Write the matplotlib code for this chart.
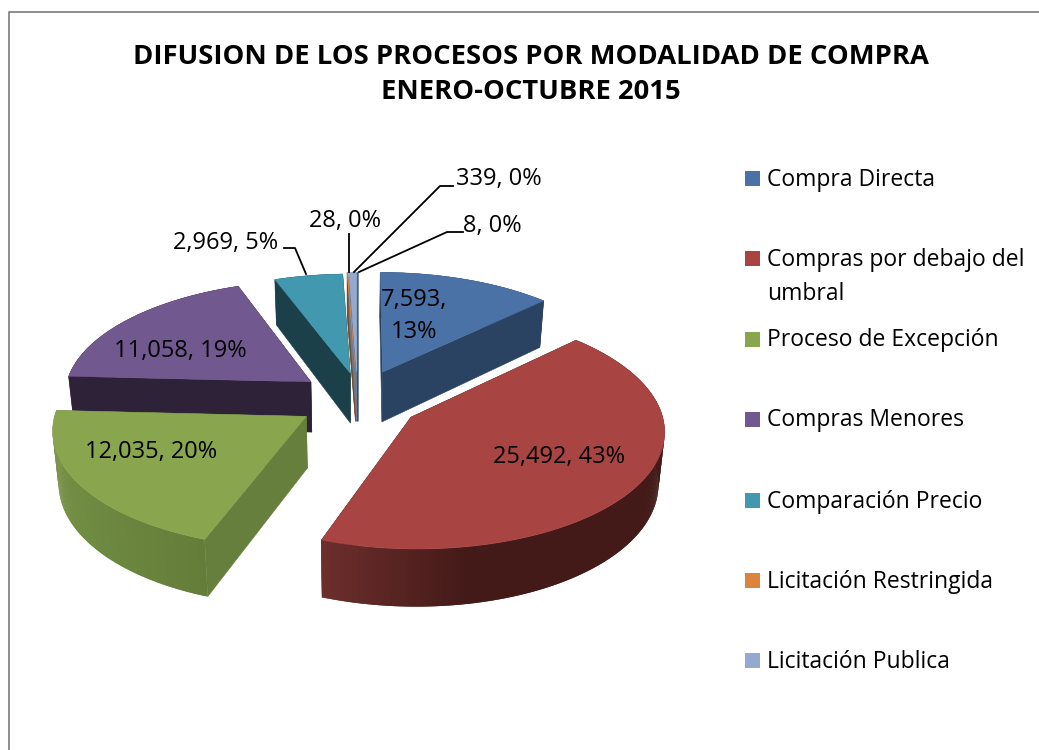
import numpy as np
import matplotlib
matplotlib.use("Agg")
import matplotlib.pyplot as plt
from matplotlib.colors import to_rgb

plt.rcParams['font.family'] = ['Open Sans', 'DejaVu Sans']

# data
title = "DIFUSION DE LOS PROCESOS POR MODALIDAD DE COMPRA\nENERO-OCTUBRE 2015"
values = [7593, 25492, 12035, 11058, 2969, 28, 339, 8]
percents = [13, 43, 20, 19, 5, 0, 0, 0]
legend_names = ["Compra Directa", "Compras por debajo del\numbral", "Proceso de Excepción",
                "Compras Menores", "Comparación Precio", "Licitación Restringida", "Licitación Publica"]
top_colors = ["#4A72A6", "#A84442", "#89A54E", "#71588F", "#4198AF", "#DB843D", "#93A9CF", "#4A72A6"]
cut_colors = ["#2A4363", "#4A1B19", "#667F3C", "#2E2238", "#1B404A", "#7A4A20", "#6A7A94", "#2A4363"]
wall_light = ["#2A4363", "#6E2F2D", "#7C994A", "#2E2238", "#1B404A", "#7A4A20", "#6A7A94", "#2A4363"]
wall_dark = ["#2A4363", "#431A18", "#647E3A", "#2E2238", "#1B404A", "#7A4A20", "#6A7A94", "#2A4363"]
wall_fade = [0, 0.8, 0, 0, 0, 0, 0, 0]

# projection of the tilted pie
cx, cy = 355, 400
A, B, k = 248, 115, 0.1
explode = 0.27
depth = 51
shift_x = [2, -1, 8, 9, 8, 3, 3, 3]
shift_y = [0, 0, -1, 0, 3, 2, 2, 2]
z = [2, 6, 5, 3, 2, 2, 2, 2]


def project(X, Y):
    s = 1 / (1 - k * Y)
    return cx + A * X * s, cy + B * Y * s, s


def lower(x, y, s):
    # bottom rim sits further from the camera
    return cx + (x - cx) * 0.98, y + depth * s


def draw_slice(i, t0, t1):
    mid = np.radians((t0 + t1) / 2)
    ox, oy = explode * np.sin(mid), -explode * np.cos(mid)
    theta = np.radians(np.linspace(t0, t1, max(int(t1 - t0) * 2, 2) + 1))
    x, y, s = project(ox + np.sin(theta), oy - np.cos(theta))
    px, py, ps = project(ox, oy)
    x, y, px, py = x + shift_x[i], y + shift_y[i], px + shift_x[i], py + shift_y[i]
    bx, by = lower(x, y, s)
    pbx, pby = lower(px, py, ps)
    # cut faces
    for j in [0, -1]:
        ax.fill([px, x[j], bx[j], pbx], [py, y[j], by[j], pby],
                color=cut_colors[i], lw=0.4, zorder=z[i])
    # outer wall, painted in overlapping strips so no seams show
    c0, c1 = np.array(to_rgb(wall_dark[i])), np.array(to_rgb(wall_light[i]))
    n = len(theta) - 1
    for j in range(n):
        e = min(j + 2, n)
        f = max(0, (j / n - wall_fade[i]) / (1 - wall_fade[i]))
        ax.fill([x[j], x[e], bx[e], bx[j]], [y[j], y[e], by[e], by[j]],
                color=c0 + (c1 - c0) * f, lw=0, zorder=z[i])
    # top
    ax.fill(np.r_[px, x], np.r_[py, y], color=top_colors[i], lw=0.3, zorder=z[i] + 0.5)


fig = plt.figure(figsize=(10.39, 7.5), dpi=100)
ax = fig.add_axes([0, 0, 1, 1])
ax.set_xlim(0, 1039)
ax.set_ylim(750, 0)
ax.axis("off")

# chart frame
ax.plot([9, 9, 1039], [750, 12, 12], color="#868686", lw=1.3, zorder=0)

ax.text(531, 74.5, title, ha="center", va="center", fontsize=19.75, fontweight="bold",
        linespacing=1.49, color="black")

total = sum(values)
edges = np.r_[0, np.cumsum(values)] / total * 360
for i in range(len(values)):
    draw_slice(i, edges[i], edges[i + 1])

label_pos = [(414, 316), (559, 457), (151, 452), (180, 351), (226, 243), (345, 221), (499, 179), (492, 226)]
for i, (lx, ly) in enumerate(label_pos):
    sep = ",\n" if i == 0 else ", "
    ax.text(lx, ly, f"{values[i]:,}{sep}{percents[i]}%", ha="center", va="center", fontsize=17,
            color="black", zorder=10, linespacing=1.46)

# leader lines
leaders = [([284, 295, 306], [248, 248, 274]),
           ([349, 349], [234, 272]),
           ([453, 440, 354], [186, 186, 272]),
           ([463, 447, 359], [232, 232, 272])]
for lx, ly in leaders:
    ax.plot(lx, ly, color="black", lw=1.3, zorder=9)

# legend
legend_y = [178.5, 258.5, 339, 419, 500, 580, 660]
for i, name in enumerate(legend_names):
    ax.fill([745, 760, 760, 745], [legend_y[i] - 7.5, legend_y[i] - 7.5, legend_y[i] + 7.5, legend_y[i] + 7.5],
            color=top_colors[i], lw=0)
    ax.text(767, legend_y[i] - 10.5, name, ha="left", va="top", fontsize=16.5, color="black",
            linespacing=1.55)

fig.savefig("out.png", dpi=100)
